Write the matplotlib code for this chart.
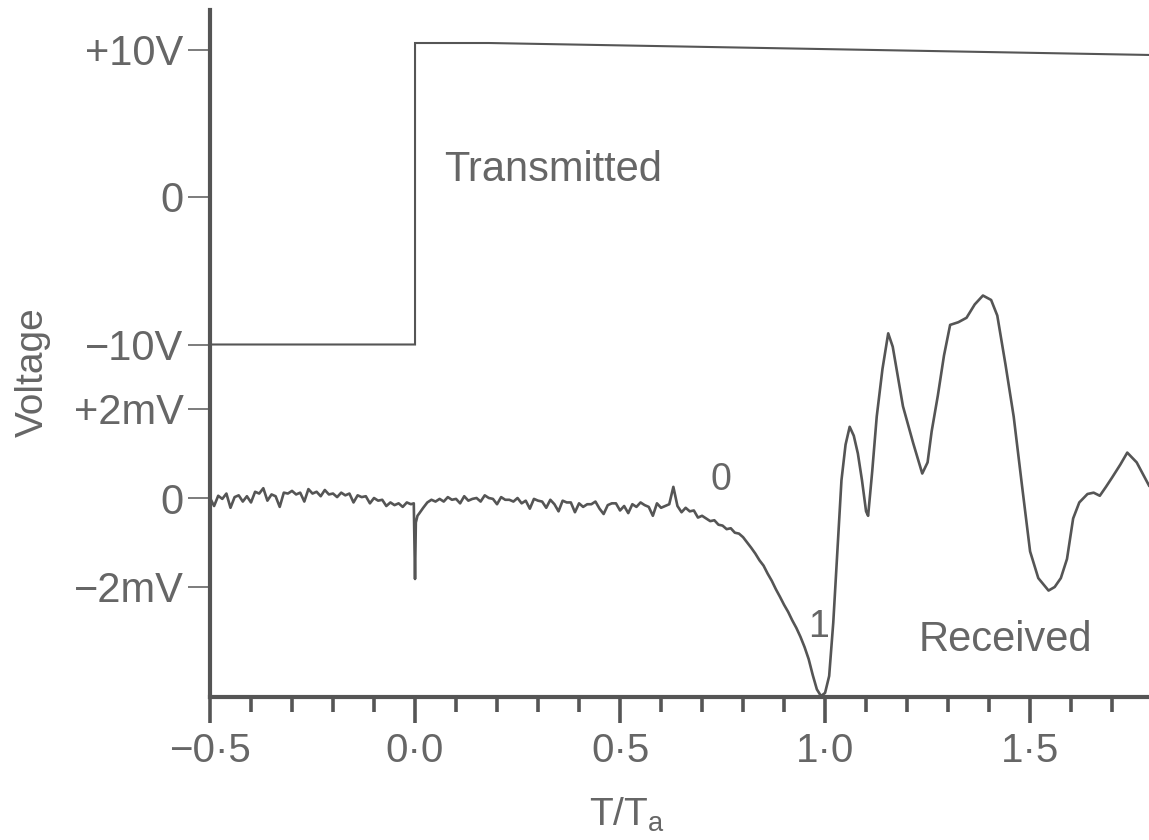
import numpy as np
import matplotlib
matplotlib.use("Agg")
import matplotlib.pyplot as plt
from matplotlib.ticker import MultipleLocator

plt.rcParams["font.family"] = ["Liberation Sans", "DejaVu Sans"]
plt.rcParams["mathtext.fontset"] = "custom"
plt.rcParams["mathtext.rm"] = "Liberation Sans"

INK = "#555555"
TXT = "#666666"

# ── Data ─────────────────────────────────────────────────────────────────────
# transmitted step (volts)
tx_t = [-0.5, 0.0, 0.0, 0.18, 1.79]
tx_v = [-10.0, -10.0, 10.44, 10.44, 9.63]

# received trace (mV): noisy baseline sampled every 0.01 T/Ta
base_pre_start = -0.50
base_pre = [
    0.00, -0.18, 0.05, -0.02, 0.10, -0.22, 0.02, 0.06, -0.08, 0.04,
    -0.10, 0.14, 0.10, 0.22, -0.06, 0.08, 0.04, -0.20, 0.12, 0.10,
    0.16, 0.08, 0.12, -0.08, 0.20, 0.10, 0.14, 0.04, 0.18, 0.08,
    0.10, 0.02, 0.12, 0.06, 0.10, -0.10, 0.06, 0.02, 0.04, -0.12,
    0.00, -0.06, -0.04, -0.18, -0.10, -0.16, -0.12, -0.20, -0.10, -0.14,
]
# spike at switching instant
spike_t = [-0.003, 0.0, 0.002, 0.006]
spike_mv = [-0.12, -1.82, -0.55, -0.40]

base_post_start = 0.01
base_post = [
    -0.35, -0.22, -0.10, -0.04, -0.08, -0.02, -0.08, 0.02, -0.04, -0.02,
    -0.12, 0.04, -0.06, -0.02, 0.00, -0.08, 0.06, 0.00, -0.02, -0.14,
    0.02, -0.04, -0.04, -0.08, 0.00, -0.12, -0.06, -0.24, -0.02, -0.06,
    -0.08, -0.22, -0.04, -0.14, -0.30, -0.06, -0.10, -0.10, -0.32, -0.12,
    -0.20, -0.14, -0.14, -0.08, -0.24, -0.36, -0.16, -0.12, -0.12, -0.28,
    -0.18, -0.34, -0.14, -0.20, -0.10, -0.16, -0.20, -0.40, -0.12, -0.22,
    -0.18, -0.14, 0.25, -0.18, -0.32, -0.22, -0.30, -0.28, -0.44, -0.40,
    -0.46, -0.52, -0.50, -0.60, -0.62, -0.70, -0.68, -0.78, -0.80,
]

tail_t = [
    0.80, 0.81, 0.82, 0.83, 0.84, 0.85, 0.86, 0.87, 0.88, 0.89,
    0.90, 0.91, 0.92, 0.93, 0.94, 0.95, 0.96, 0.97, 0.98, 0.99,
    1.00, 1.01, 1.02, 1.03, 1.04, 1.05, 1.06, 1.07, 1.08, 1.09,
    1.10, 1.105, 1.115, 1.126, 1.14, 1.154, 1.165, 1.18, 1.19, 1.215,
    1.237, 1.25, 1.26, 1.275, 1.29, 1.305, 1.325, 1.345, 1.365, 1.385,
    1.395, 1.405, 1.42, 1.44, 1.46, 1.48, 1.50, 1.52, 1.545, 1.56,
    1.575, 1.59, 1.605, 1.62, 1.64, 1.655, 1.67, 1.685, 1.70, 1.72,
    1.737, 1.76, 1.79,
]
tail_mv = [
    -0.88, -1.00, -1.12, -1.25, -1.40, -1.52, -1.70, -1.86, -2.05, -2.22,
    -2.40, -2.56, -2.75, -2.92, -3.12, -3.35, -3.62, -3.98, -4.30, -4.45,
    -4.38, -4.00, -2.80, -1.20, 0.40, 1.20, 1.60, 1.40, 1.00, 0.40,
    -0.30, -0.40, 0.60, 1.83, 2.90, 3.70, 3.40, 2.60, 2.06, 1.23,
    0.55, 0.80, 1.50, 2.30, 3.20, 3.89, 3.95, 4.05, 4.35, 4.55,
    4.50, 4.45, 4.10, 3.00, 1.83, 0.30, -1.20, -1.80, -2.08, -2.00,
    -1.80, -1.37, -0.46, -0.10, 0.09, 0.12, 0.05, 0.25, 0.46, 0.75,
    1.02, 0.80, 0.28,
]

ytick_labels = ["+10V", "0", "\u221210V", "+2mV", "0", "\u22122mV"]
xtick_labels = ["\u22120\u00b75", "0\u00b70", "0\u00b75", "1\u00b70", "1\u00b75"]

# ── Scales: both traces share one panel with their own offsets ──────────────
TX_ZERO, TX_GAIN = 500.0, 14.75   # panel units per volt
RX_ZERO, RX_GAIN = 199.0, 44.5    # panel units per mV


def tx_y(v):
    return TX_ZERO + np.asarray(v) * TX_GAIN


def rx_y(mv):
    return RX_ZERO + np.asarray(mv) * RX_GAIN


pre_t = base_pre_start + 0.01 * np.arange(len(base_pre))
post_t = base_post_start + 0.01 * np.arange(len(base_post))
rx_t = np.concatenate([pre_t, spike_t, post_t, tail_t])
rx_mv = np.concatenate([base_pre, spike_mv, base_post, tail_mv])

# ── Figure ───────────────────────────────────────────────────────────────────
fig = plt.figure(figsize=(11.49, 8.40), dpi=100)
ax = fig.add_axes([210 / 1149, (840 - 697) / 840, (1149 - 210) / 1149, 687 / 840])

ax.plot(tx_t, tx_y(tx_v), color=INK, lw=1.5, solid_joinstyle="miter")
ax.plot(rx_t, rx_y(rx_mv), color=INK, lw=1.9)

ax.set_xlim(-0.5, 1.79)
ax.set_ylim(0, 687)

for side in ["top", "right"]:
    ax.spines[side].set_visible(False)
for side in ["left", "bottom"]:
    ax.spines[side].set_linewidth(3.0)
    ax.spines[side].set_color(INK)

ax.xaxis.set_minor_locator(MultipleLocator(0.1))
ax.set_xticks([-0.5, 0.0, 0.5, 1.0, 1.5])
ax.set_xticklabels(xtick_labels)
ax.tick_params(axis="x", which="major", direction="out", length=19, width=2.6,
               color=INK, labelsize=29, labelcolor=TXT, pad=6)
ax.tick_params(axis="x", which="minor", direction="out", length=11, width=2.6,
               color=INK)

ytick_pos = list(tx_y([10, 0, -10])) + list(rx_y([2, 0, -2]))
ax.set_yticks(ytick_pos)
ax.set_yticklabels(ytick_labels)
ax.tick_params(axis="y", direction="out", length=16, width=1.2, color=TXT,
               labelsize=30, labelcolor=TXT, pad=3)

ax.text(0.07, 527, "Transmitted", fontsize=30, color=TXT, ha="left", va="center")
ax.text(1.228, 57, "Received", fontsize=30, color=TXT, ha="left", va="center")
ax.text(0.745, 217, "0", fontsize=27, color=TXT, ha="center", va="center")
ax.text(0.984, 70, "1", fontsize=27, color=TXT, ha="center", va="center")

fig.text(33 / 1149, 1 - 372 / 840, "Voltage", rotation=90, fontsize=28,
         color=TXT, ha="center", va="center")
fig.text(627 / 1149, 1 - 815 / 840, r"T/T$_\mathrm{a}$", fontsize=28,
         color=TXT, ha="center", va="center")

fig.savefig("out.png", dpi=100)
plt.close(fig)
